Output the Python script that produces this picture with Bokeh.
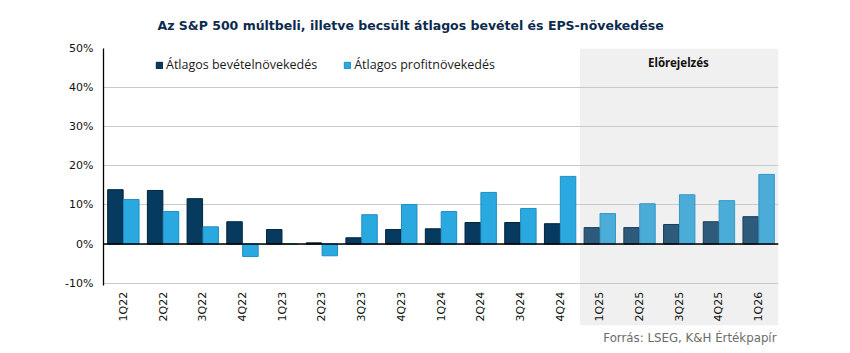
import math
from bokeh.plotting import figure
from bokeh.models import (Range1d, FixedTicker, Span, Label, Legend, LegendItem,
                          ColumnDataSource, Title)
from bokeh.transform import dodge
from bokeh.core.properties import value
from bokeh.embed import file_html
from bokeh.resources import INLINE

# ---- data ----
quarters = ["1Q22", "2Q22", "3Q22", "4Q22", "1Q23", "2Q23", "3Q23", "4Q23",
            "1Q24", "2Q24", "3Q24", "4Q24", "1Q25", "2Q25", "3Q25", "4Q25", "1Q26"]
revenue_growth = [13.9, 13.7, 11.6, 5.7, 3.7, 0.3, 1.6, 3.7,
                  3.9, 5.5, 5.5, 5.2, 4.2, 4.2, 5.0, 5.7, 7.0]
eps_growth = [11.4, 8.3, 4.4, -3.2, 0.0, -3.0, 7.5, 10.1,
              8.3, 13.2, 9.1, 17.3, 7.8, 10.3, 12.6, 11.1, 17.8]
n_actual = 12  # first forecast quarter index (1Q25)
y_ticks = [-10, 0, 10, 20, 30, 40, 50]

title_text = "Az S&P 500 múltbeli, illetve becsült átlagos bevétel és EPS-növekedése"
legend_rev = "Átlagos bevételnövekedés"
legend_eps = "Átlagos profitnövekedés"
forecast_text = "Előrejelzés"
source_text = "Forrás: LSEG, K&H Értékpapír"

idx = list(range(len(quarters)))
hist = ColumnDataSource(dict(x=idx[:n_actual], rev=revenue_growth[:n_actual],
                             eps=eps_growth[:n_actual]))
fore = ColumnDataSource(dict(x=idx[n_actual:], rev=revenue_growth[n_actual:],
                             eps=eps_growth[n_actual:]))
labels_src = ColumnDataSource(dict(x=idx, q=quarters, y=[-12.2] * len(idx)))

p = figure(width=850, height=353, output_backend="svg", toolbar_location=None,
           x_range=Range1d(-0.5, len(quarters) - 0.5), y_range=Range1d(-20.83, 50),
           min_border_left=103, min_border_right=72, min_border_top=47,
           min_border_bottom=28)
p.outline_line_color = None
p.background_fill_color = "white"

# title and source
p.title = Title(text=title_text, align="left", offset=54, standoff=31,
                text_font="DejaVu Sans", text_font_style="bold",
                text_font_size="12.5px", text_color="#0d2b4e")
p.add_layout(Title(text=source_text, align="right", offset=2, standoff=7,
                   text_font="DejaVu Sans", text_font_style="normal",
                   text_font_size="11.8px", text_color="#6b6b6b"), "below")

# forecast shading
p.quad(left=n_actual - 0.5, right=len(quarters) - 0.5, bottom=-20.83, top=50,
       fill_color="#f0f0f0", line_color=None, level="image")

# axes
p.xaxis.visible = False
p.xgrid.visible = False
p.yaxis.ticker = FixedTicker(ticks=y_ticks)
p.yaxis.major_label_overrides = {t: f"{t}%" for t in y_ticks}
p.yaxis.bounds = (-10.7, 50)
p.yaxis.axis_line_color = "black"
p.yaxis.axis_line_width = 1.3
p.yaxis.major_tick_in = 0
p.yaxis.major_tick_out = 0
p.yaxis.minor_tick_in = 0
p.yaxis.minor_tick_out = 0
p.yaxis.major_label_standoff = 10
p.yaxis.major_label_text_font = "DejaVu Sans"
p.yaxis.major_label_text_font_size = "11px"
p.yaxis.major_label_text_color = "#111111"
p.ygrid.ticker = FixedTicker(ticks=y_ticks)
p.ygrid.grid_line_color = "#c9c9c9"
p.ygrid.grid_line_width = 1

w = 0.39
r1 = p.vbar(x=dodge("x", -0.2), top="rev", bottom=0, width=w, source=hist,
            fill_color="#063a5f", line_color="#02243d", line_width=1)
r2 = p.vbar(x=dodge("x", 0.2), top="eps", bottom=0, width=w, source=hist,
            fill_color="#2aa9e0", line_color="#1d8ec2", line_width=1)
p.vbar(x=dodge("x", -0.2), top="rev", bottom=0, width=w, source=fore,
       fill_color="#2e5a7b", line_color="#1b3d58", line_width=1)
p.vbar(x=dodge("x", 0.2), top="eps", bottom=0, width=w, source=fore,
       fill_color="#4cacd8", line_color="#3597c6", line_width=1)

p.add_layout(Span(location=0, dimension="width", line_color="black", line_width=1.5))

# category labels
p.text(x="x", y="y", text="q", source=labels_src, angle=math.pi / 2,
       text_align="right", text_baseline="middle",
       text_font=value("DejaVu Sans"), text_font_size="11px", text_color="#111111")

legend = Legend(items=[LegendItem(label=legend_rev, renderers=[r1]),
                       LegendItem(label=legend_eps, renderers=[r2])],
                orientation="horizontal", location=(52, 252),
                glyph_width=8, glyph_height=8, label_standoff=3, spacing=26,
                padding=0, margin=0, border_line_color=None,
                background_fill_alpha=0,
                label_text_font="Open Sans", label_text_font_size="12.5px",
                label_text_color="#1a1a1a")
p.add_layout(legend)

p.add_layout(Label(x=13.98, y=46.4, text=forecast_text, text_align="center",
                   text_baseline="middle", text_font="Noto Sans",
                   text_font_style="bold", text_font_size="11.5px",
                   text_color="#111111"))

open("out.html", "w").write(file_html(p, INLINE))
